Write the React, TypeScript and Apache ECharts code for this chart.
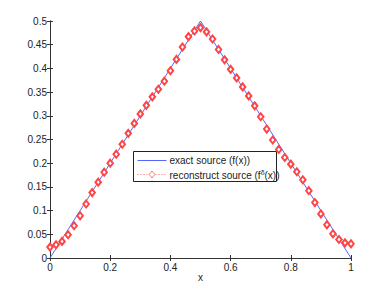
import React, { useEffect, useRef } from "react";
import * as echarts from "echarts";

const xValues = [
  0, 0.02, 0.04, 0.06, 0.08, 0.1, 0.12, 0.14, 0.16, 0.18, 0.2, 0.22, 0.24, 0.26, 0.28, 0.3, 0.32,
  0.34, 0.36, 0.38, 0.4, 0.42, 0.44, 0.46, 0.48, 0.5, 0.52, 0.54, 0.56, 0.58, 0.6, 0.62, 0.64,
  0.66, 0.68, 0.7, 0.72, 0.74, 0.76, 0.78, 0.8, 0.82, 0.84, 0.86, 0.88, 0.9, 0.92, 0.94, 0.96,
  0.98, 1.0,
];
const reconstructValues = [
  0.023, 0.028, 0.035, 0.049, 0.068, 0.089, 0.114, 0.138, 0.16, 0.181, 0.2, 0.219, 0.24, 0.263,
  0.284, 0.304, 0.322, 0.34, 0.356, 0.373, 0.395, 0.419, 0.445, 0.467, 0.479, 0.486, 0.477, 0.462,
  0.44, 0.418, 0.398, 0.38, 0.361, 0.342, 0.321, 0.298, 0.272, 0.249, 0.229, 0.212, 0.198, 0.182,
  0.165, 0.142, 0.117, 0.093, 0.07, 0.051, 0.039, 0.032, 0.03,
];
const exactX = [0, 0.5, 1];
const exactY = [0, 0.5, 0];

const FONT = "'Liberation Sans', Arial, Helvetica, sans-serif";

export default function App() {
  const ref = useRef<HTMLDivElement>(null);
  useEffect(() => {
    if (!ref.current) return;
    const chart = echarts.init(ref.current, undefined, { renderer: "svg" });
    const axisLine = { show: true, lineStyle: { color: "#333", width: 1 } };
    const tick = { show: true, inside: true, length: 3, lineStyle: { color: "#333" } };
    chart.setOption({
      animation: false,
      backgroundColor: "#fff",
      grid: { left: 50, right: 37, top: 21, bottom: 33 },
      xAxis: [
        {
          type: "value",
          min: 0,
          max: 1,
          interval: 0.2,
          name: "x",
          nameLocation: "middle",
          nameGap: 14,
          nameMoveOverlap: false,
          nameTextStyle: { fontFamily: FONT, fontSize: 10, color: "#222" },
          axisLine,
          axisTick: tick,
          splitLine: { show: false },
          axisLabel: { fontFamily: FONT, fontSize: 10, color: "#222", margin: 4 },
        },
        {
          type: "value",
          position: "top",
          min: 0,
          max: 1,
          interval: 0.2,
          axisLine,
          axisTick: tick,
          splitLine: { show: false },
          axisLabel: { show: false },
        },
      ],
      yAxis: [
        {
          type: "value",
          min: 0,
          max: 0.5,
          interval: 0.05,
          axisLine,
          axisTick: tick,
          splitLine: { show: false },
          axisLabel: { fontFamily: FONT, fontSize: 10, color: "#222", margin: 3 },
        },
        {
          type: "value",
          position: "right",
          min: 0,
          max: 0.5,
          interval: 0.05,
          axisLine,
          axisTick: tick,
          splitLine: { show: false },
          axisLabel: { show: false },
        },
      ],
      series: [
        {
          type: "line",
          data: exactX.map((x, i) => [x, exactY[i]]),
          showSymbol: false,
          lineStyle: { color: "#5566ff", width: 1 },
          z: 2,
        },
        {
          type: "line",
          data: xValues.map((x, i) => [x, reconstructValues[i]]),
          symbol: "emptyDiamond",
          symbolSize: [5.5, 7],
          itemStyle: { color: "#ff4444", borderWidth: 0.7 },
          lineStyle: { color: "#ff6666", width: 1, type: "dotted", opacity: 0 },
          z: 3,
        },
      ],
      graphic: [
        {
          type: "group",
          left: 133,
          top: 151,
          z: 100,
          children: [
            {
              type: "rect",
              shape: { x: 0, y: 0, width: 143, height: 30 },
              style: { fill: "#fff", stroke: "#222", lineWidth: 1 },
            },
            {
              type: "line",
              shape: { x1: 4, y1: 9, x2: 33, y2: 9 },
              style: { stroke: "#5566ff", lineWidth: 1 },
            },
            {
              type: "text",
              x: 36,
              y: 9,
              style: {
                text: "exact source (f(x))",
                font: `10px ${FONT}`,
                fill: "#222",
                verticalAlign: "middle",
              },
            },
            {
              type: "line",
              shape: { x1: 4, y1: 23, x2: 33, y2: 23 },
              style: { stroke: "#ff6666", lineWidth: 1, lineDash: [1, 2] },
            },
            {
              type: "polygon",
              shape: { points: [[18.5, 19.5], [21.3, 23], [18.5, 26.5], [15.7, 23]] },
              style: { fill: "#fff", stroke: "#ff4444", lineWidth: 0.7 },
            },
            {
              type: "text",
              x: 36,
              y: 24,
              style: {
                text: "reconstruct source (f{sup|δ}(x))",
                font: `10px ${FONT}`,
                fill: "#222",
                verticalAlign: "middle",
                rich: {
                  sup: { fontSize: 7, fontFamily: FONT, fill: "#222", padding: [0, 0, 6, 0] },
                },
              },
            },
          ],
        },
      ],
    });
    return () => chart.dispose();
  }, []);
  return <div ref={ref} style={{ width: 388, height: 291, margin: -8 }} />;
}
